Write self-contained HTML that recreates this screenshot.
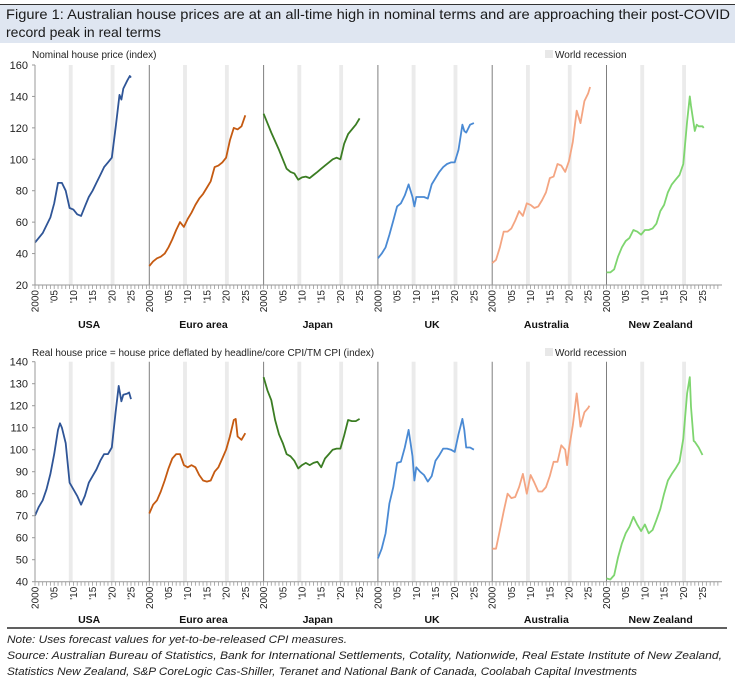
<!DOCTYPE html>
<html><head><meta charset="utf-8"><style>
body{margin:0;background:#fff;width:735px;height:683px;overflow:hidden;font-family:"Liberation Sans",sans-serif}
svg{display:block}
</style></head><body>
<svg id="chart" width="735" height="683" xmlns="http://www.w3.org/2000/svg" font-family="Liberation Sans, sans-serif">
<rect x="0" y="5" width="735" height="38" fill="#dfe6f1"/>
<line x1="0" y1="4.5" x2="735" y2="4.5" stroke="#333" stroke-width="1"/>
<text x="6" y="19" font-size="14" fill="#1a1a1a" textLength="724" lengthAdjust="spacingAndGlyphs">Figure 1: Australian house prices are at an all-time high in nominal terms and are approaching their post-COVID</text>
<text x="6" y="37" font-size="14" fill="#1a1a1a">record peak in real terms</text>
<g id="plots"></g>
<line x1="7" y1="628" x2="727" y2="628" stroke="#000" stroke-width="1.2"/>
<text x="7" y="643" font-size="11" font-style="italic" fill="#222" textLength="340" lengthAdjust="spacingAndGlyphs">Note: Uses forecast values for yet-to-be-released CPI measures.</text>
<text x="7" y="659" font-size="11" font-style="italic" fill="#222" textLength="715" lengthAdjust="spacingAndGlyphs">Source:  Australian Bureau of Statistics, Bank for International Settlements, Cotality, Nationwide, Real Estate Institute of New Zealand,</text>
<text x="7" y="675" font-size="11" font-style="italic" fill="#222" textLength="630" lengthAdjust="spacingAndGlyphs">Statistics New Zealand, S&amp;P CoreLogic Cas-Shiller, Teranet and National Bank of Canada, Coolabah Capital Investments</text>
</svg>
<script>
const countries=["USA","Euro area","Japan","UK","Australia","New Zealand"];
const colors=["#2f5597","#c55a11","#3b7d23","#4a8ad4","#f4a582","#7ed56f"];
const recessions=[[2008.8,2009.8],[2019.7,2020.7]];
const nomTicks=[20,40,60,80,100,120,140,160];
const realTicks=[40,50,60,70,80,90,100,110,120,130,140];
const yearLabels=["2000","'05","'10","'15","'20","'25"];
// nominal
const nomUSAx=[2000,2002,2004,2005,2006,2007,2008,2009,2010,2011,2012,2013,2014,2015,2016,2017,2018,2019,2020,2021,2022,2022.5,2023,2024,2024.7,2025];
const nomUSAy=[47,53,63,72,85,85,80,69,68,65,64,70,76,80,85,90,95,98,101,120,141,138,145,150,153,152];
const nomEURx=[2000,2001,2002,2003,2004,2005,2006,2007,2008,2009,2010,2011,2012,2013,2014,2015,2016,2017,2018,2019,2020,2021,2022,2023,2024,2025];
const nomEURy=[32,35,37,38,40,44,49,55,60,57,62,66,71,75,78,82,86,95,96,98,101,112,120,119,121,128];
const nomJPNx=[2000,2002,2004,2005,2006,2007,2008,2009,2010,2011,2012,2013,2014,2015,2016,2017,2018,2019,2020,2021,2022,2023,2024,2025];
const nomJPNy=[129,117,106,100,94,92,91,87,88.5,89,88,90,92,94,96,98,100,101,100,110,116,119,122,126];
const nomUKx=[2000,2001,2002,2003,2004,2005,2006,2007,2008,2009,2009.5,2010,2011,2012,2013,2014,2015,2016,2017,2018,2019,2020,2021,2022,2022.5,2023,2024,2025];
const nomUKy=[37,40,44,52,61,70,72,77,84,76,70,76,76,76,75,84,88,92,95,97,98,98,106,122,118,117,122,123];
const nomAUSx=[2000,2001,2002,2003,2004,2005,2006,2007,2008,2009,2010,2011,2012,2013,2014,2015,2016,2017,2018,2019,2020,2021,2022,2023,2024,2025,2025.5];
const nomAUSy=[34,36,44,54,54,56,61,67,64,72,71,69,70,74,79,88,89,97,96,92,99,111,131,123,137,142,146];
const nomNZLx=[2000,2001,2002,2003,2004,2005,2006,2007,2008,2009,2010,2011,2012,2013,2014,2015,2016,2017,2018,2019,2020,2021,2021.7,2022,2023,2023.5,2024,2025,2025.3];
const nomNZLy=[28,28,30,38,44,48,50,55,54,52,55,55,56,59,67,71,79,84,87,90,97,124,140,134,118,122,121,121,120];
// real
const realUSAx=[2000,2001,2002,2003,2004,2005,2006,2006.5,2007,2008,2009,2010,2011,2012,2013,2014,2015,2016,2017,2018,2019,2020,2021,2021.8,2022.5,2023,2024,2024.5,2025];
const realUSAy=[70,74,77,82,89,98,109,112,110,103,85,82,79,75,79,85,88,91,95,98,98,101,117,129,122,125,125.5,126,123];
const realEURx=[2000,2001,2002,2003,2004,2005,2006,2007,2008,2009,2010,2011,2012,2013,2014,2015,2016,2017,2018,2019,2020,2021,2022,2022.5,2023,2024,2025];
const realEURy=[71,75,77,81,86,91.5,96,98,98,93,92,93,92,88.5,86,85.5,86,90,92,96,100,106,113.5,114,106,104.5,107.5];
const realJPNx=[2000,2001,2002,2003,2004,2005,2006,2007,2008,2009,2010,2011,2012,2013,2014,2015,2016,2017,2018,2019,2020,2021,2022,2023,2024,2025];
const realJPNy=[133,127,122.5,113.5,107,103,98,97,95,91.5,93,94,93,94,94.5,92,96,98,100,100.5,100.5,106.5,113.5,113,113,114];
const realUKx=[2000,2001,2002,2003,2004,2005,2006,2007,2008,2009,2009.5,2010,2011,2012,2013,2014,2015,2016,2017,2018,2019,2020,2021,2022,2022.5,2023,2024,2025];
const realUKy=[50.6,55,62,75.6,83,94,94.5,101,109,97,86,92,90,88.5,85.5,88,95,97.5,100.5,100.5,100,99,107,114,109,101,101,100];
const realAUSx=[2000,2001,2002,2003,2004,2005,2006,2007,2008,2009,2010,2011,2012,2013,2014,2015,2016,2017,2018,2019,2019.5,2020,2021,2022,2023,2024,2025,2025.3];
const realAUSy=[55,55,63.5,72,80,78,78.5,83,89,80,88.5,85,81,81,83,88,94.5,94.5,102,100,93,100.5,111,125.6,110.5,117,119,120];
const realNZLx=[2000,2001,2002,2003,2004,2005,2006,2007,2008,2009,2010,2011,2012,2013,2014,2015,2016,2017,2018,2019,2020,2021,2021.7,2022,2022.7,2023,2024,2025];
const realNZLy=[41.5,41,43,51,57.4,62,65,69.5,66,63,66,62,63.5,68,73,80,86,89,91.5,94.5,105,125.6,133,119.5,104,103.6,101,97.6];

const NS="http://www.w3.org/2000/svg";
const root=document.getElementById('plots');
function mk(tag,attrs,parent){const e=document.createElementNS(NS,tag);for(const k in attrs)e.setAttribute(k,attrs[k]);(parent||root).appendChild(e);return e;}
const x0=35,pw=114.3,pxYear=3.84;
function xs(p,yr){return x0+p*pw+(yr-2000)*pxYear;}

function drawPanel(cfg){
  const {top,bottom,min,max,ticks,title,titleY,labelY,series}=cfg;
  const ys=v=>bottom-(v-min)/(max-min)*(bottom-top);
  const g=mk('g',{});
  
  
  for(let p=0;p<6;p++){
    recessions.forEach(r=>{
      const rc=mk('rect',{x:xs(p,r[0]),y:top,width:(r[1]-r[0])*pxYear,height:bottom-top,fill:'#ebebeb'},g);
      
      
    });
    const sep=mk('line',{x1:x0+p*pw,y1:top,x2:x0+p*pw,y2:bottom,stroke:'#7f7f7f','stroke-width':1},g);
    
    
    for(let yr=2000;yr<2030;yr++){
      const t=mk('line',{x1:xs(p,yr),y1:bottom,x2:xs(p,yr),y2:bottom+4,stroke:'#999','stroke-width':0.8},g);
      
      
    }
    yearLabels.forEach((lab,i)=>{
      const x=xs(p,2000+i*5)+3.5,y=bottom+5;
      const t=mk('text',{x:x,y:y,'font-size':10,fill:'#222','text-anchor':'end',transform:`rotate(-90 ${x} ${y})`},g);
      t.textContent=lab;
      
      
    });
    const cl=mk('text',{x:xs(p,2000)+pw/2-3,y:labelY,'font-size':10.5,'font-weight':'bold',fill:'#111','text-anchor':'middle'},g);
    cl.textContent=countries[p];
    
    
    const [sx,sy]=series[p];
    const d=sx.map((yr,i)=>(i?'L':'M')+xs(p,yr).toFixed(1)+','+ys(sy[i]).toFixed(1)).join(' ');
    const ln=mk('path',{d:d,fill:'none',stroke:colors[p],'stroke-width':1.8,'stroke-linejoin':'round'},g);
    
    
  }
  const ax=mk('line',{x1:x0,y1:bottom,x2:722,y2:bottom,stroke:'#999','stroke-width':1},g);
  
  
  const yax=mk('line',{x1:x0,y1:top,x2:x0,y2:bottom,stroke:'#999','stroke-width':1},g);
  
  
  ticks.forEach(v=>{
    const t=mk('text',{x:28,y:ys(v)+4,'font-size':11,fill:'#222','text-anchor':'end'},g);
    t.textContent=v;
    
    
    const tk=mk('line',{x1:x0-3,y1:ys(v),x2:x0,y2:ys(v),stroke:'#999'},g);
    
    
  });
  const yt=mk('text',{x:32,y:titleY,'font-size':10,fill:'#222'},g);
  yt.textContent=title;
  
  
  const lg=mk('rect',{x:545,y:titleY-8,width:8,height:8,fill:'#e8e8e8'},g);
  
  
  const lt=mk('text',{x:555,y:titleY,'font-size':10,fill:'#222'},g);
  lt.textContent='World recession';
  
  
}
drawPanel({name:'nominal-panel',top:65,bottom:285,min:20,max:160,ticks:nomTicks,title:'Nominal house price (index)',titleY:58,labelY:328,
  series:[[nomUSAx,nomUSAy],[nomEURx,nomEURy],[nomJPNx,nomJPNy],[nomUKx,nomUKy],[nomAUSx,nomAUSy],[nomNZLx,nomNZLy]]});
drawPanel({name:'real-panel',top:361.7,bottom:581.7,min:40,max:140,ticks:realTicks,title:'Real house price = house price deflated by headline/core CPI/TM CPI (index)',titleY:356,labelY:623,
  series:[[realUSAx,realUSAy],[realEURx,realEURy],[realJPNx,realJPNy],[realUKx,realUKy],[realAUSx,realAUSy],[realNZLx,realNZLy]]});
</script>
</body></html>
